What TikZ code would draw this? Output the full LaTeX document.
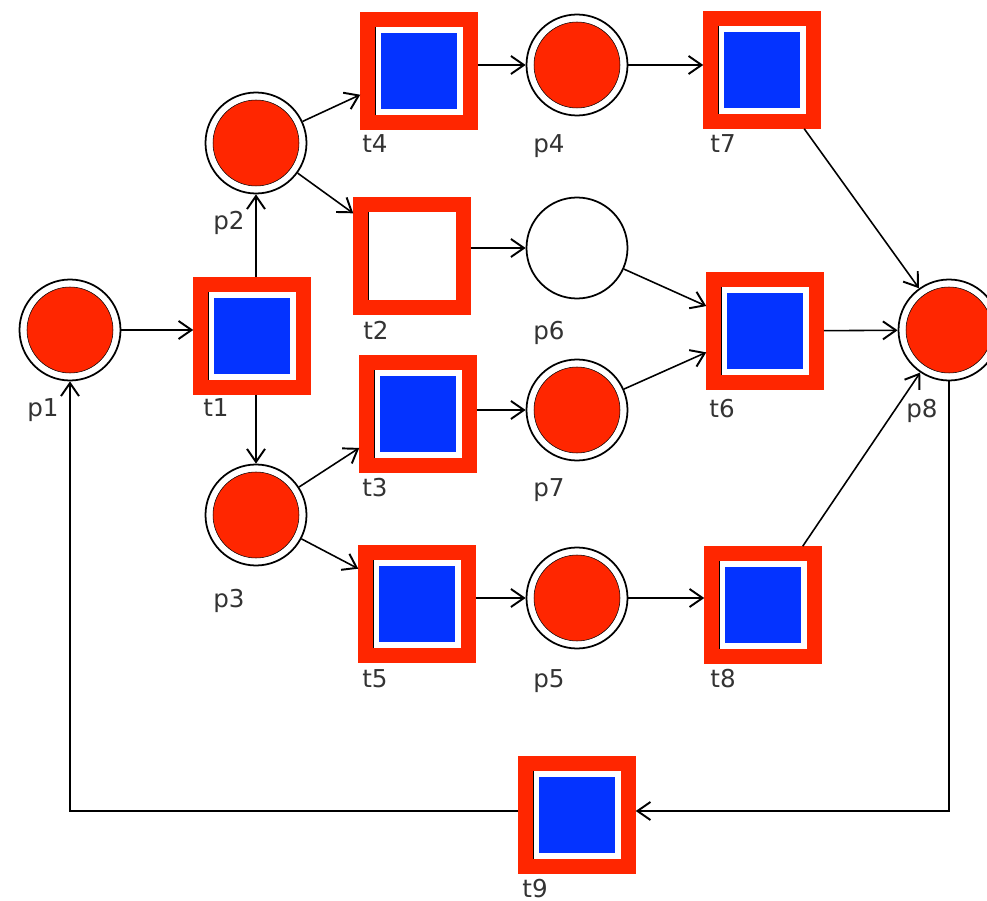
\documentclass[tikz,border=0pt]{standalone}
\usepackage{fontspec}
\usetikzlibrary{arrows.meta}
\newfontfamily\labelfont{DejaVu Sans}
\definecolor{netred}{RGB}{255,38,0}
\definecolor{netblue}{RGB}{4,51,255}

% outline of the transition box, mostly hidden by the red frame
\newcommand{\tbox}{%
  \draw[black, line width=0.5pt] ([shift={(-0.88,-0.88)}]path picture bounding box.center)
    rectangle ([shift={(0.96,0.96)}]path picture bounding box.center);}

\tikzset{
  place/.style={circle, draw, line width=1pt, minimum size=2.02cm, inner sep=0pt},
  marked/.style={place, path picture={\fill[netred, draw=black, line width=0.3pt]
      (path picture bounding box.center) circle (0.86cm);}},
  frame/.style={rectangle, draw=netred, line width=0.29cm, fill=white, minimum size=2.06cm, inner sep=0pt},
  trans/.style={frame, path picture={\tbox}},
  fired/.style={frame, path picture={\tbox
      \fill[netblue] ([shift={(-0.76,-0.76)}]path picture bounding box.center)
        rectangle ([shift={(0.76,0.76)}]path picture bounding box.center);}},
  arcline/.style={draw, line width=0.9pt, -{Straight Barb[length=2.6mm, width=3.6mm, line width=1.1pt]}},
  lbl/.style={font=\labelfont\fontsize{14}{16}\selectfont, text=black!80, anchor=base west, inner sep=0pt}
}

\begin{document}
\begin{tikzpicture}
  \useasboundingbox (0,0) rectangle (19.74,-18.02);

  % Places
  \node[marked] (p1) at (1.40,-6.60) {};
  \node[marked] (p2) at (5.12,-2.86) {};
  \node[marked] (p3) at (5.12,-10.30) {};
  \node[marked] (p4) at (11.54,-1.30) {};
  \node[place]  (p6) at (11.54,-4.96) {};
  \node[marked] (p7) at (11.54,-8.20) {};
  \node[marked] (p5) at (11.54,-11.96) {};
  \node[marked] (p8) at (18.98,-6.60) {};

  % Transitions
  \node[fired] (t1) at (5.04,-6.72) {};
  \node[fired] (t4) at (8.38,-1.42) {};
  \node[trans] (t2) at (8.24,-5.12) {};
  \node[fired] (t3) at (8.36,-8.28) {};
  \node[fired] (t5) at (8.34,-12.08) {};
  \node[fired] (t7) at (15.24,-1.40) {};
  \node[fired] (t6) at (15.30,-6.62) {};
  \node[fired] (t8) at (15.26,-12.10) {};
  \node[fired] (t9) at (11.54,-16.30) {};

  % Labels
  \node[lbl] (p1l) at (0.54,-8.34) {p1};
  \node[lbl] (t1l) at (4.06,-8.34) {t1};
  \node[lbl] (p2l) at (4.26,-4.60) {p2};
  \node[lbl] (p3l) at (4.26,-12.14) {p3};
  \node[lbl] (t4l) at (7.24,-3.06) {t4};
  \node[lbl] (p4l) at (10.66,-3.06) {p4};
  \node[lbl] (t7l) at (14.20,-3.06) {t7};
  \node[lbl] (t2l) at (7.26,-6.80) {t2};
  \node[lbl] (p6l) at (10.66,-6.80) {p6};
  \node[lbl] (t6l) at (14.18,-8.36) {t6};
  \node[lbl] (p8l) at (18.12,-8.36) {p8};
  \node[lbl] (t3l) at (7.24,-9.94) {t3};
  \node[lbl] (p7l) at (10.66,-9.94) {p7};
  \node[lbl] (t5l) at (7.24,-13.74) {t5};
  \node[lbl] (p5l) at (10.66,-13.74) {p5};
  \node[lbl] (t8l) at (14.20,-13.74) {t8};
  \node[lbl] (t9l) at (10.44,-17.94) {t9};

  % Arcs
  \draw[arcline] (p1) -- (t1.west |- p1);
  \draw[arcline] (t1.north -| p2) -- (p2);
  \draw[arcline] (t1.south -| p3) -- (p3);
  \draw[arcline] (p2) -- (t4.202);
  \draw[arcline] (p2) -- (t2.144);
  \draw[arcline] (p3) -- (t3.210);
  \draw[arcline] (p3) -- (t5.149);
  \draw[arcline] (t4.east |- p4) -- (p4);
  \draw[arcline] (t2.east |- p6) -- (p6);
  \draw[arcline] (t3.east |- p7) -- (p7);
  \draw[arcline] (t5.east |- p5) -- (p5);
  \draw[arcline] (p4) -- (t7.west |- p4);
  \draw[arcline] (p6) -- (t6.157);
  \draw[arcline] (p7) -- (t6.200);
  \draw[arcline] (p5) -- (t8.west |- p5);
  \draw[arcline] (t7) -- (p8);
  \draw[arcline] (t6) -- (p8);
  \draw[arcline] (t8) -- (p8);
  \draw[arcline] (p8) |- ([yshift=0.08cm]t9.east);
  \draw[arcline] ([yshift=0.08cm]t9.west) -| (p1);
\end{tikzpicture}
\end{document}
